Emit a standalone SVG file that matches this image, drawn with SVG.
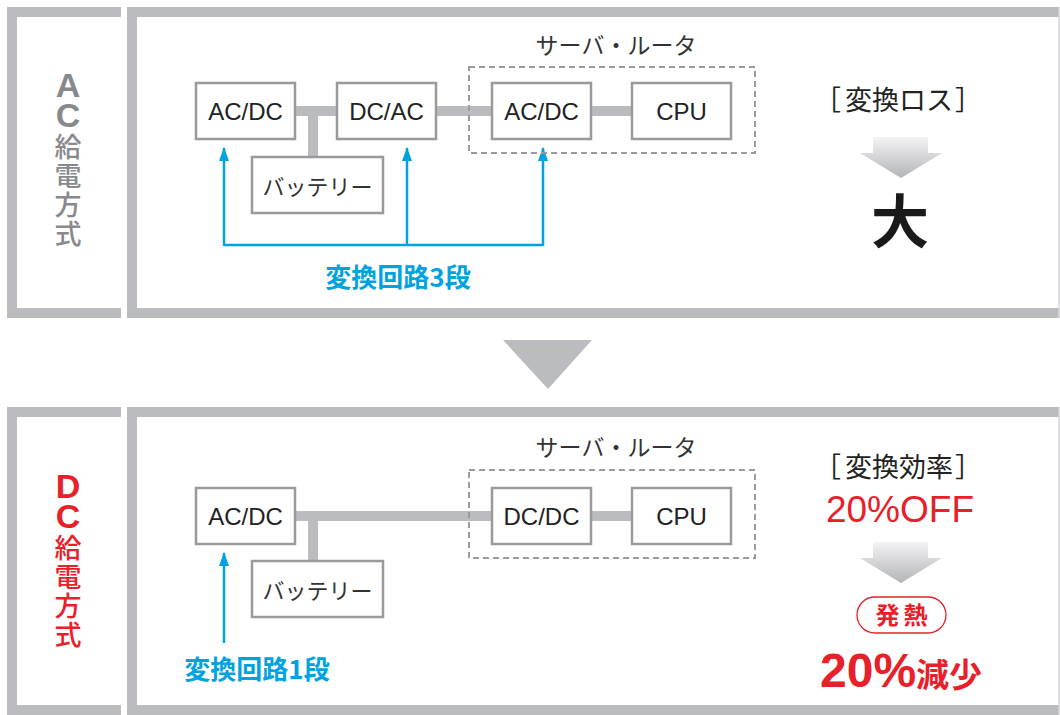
<svg xmlns="http://www.w3.org/2000/svg" width="1060" height="715" viewBox="0 0 1060 715">
<defs>
<linearGradient id="ga" x1="0" y1="0" x2="0" y2="1">
<stop offset="0" stop-color="#f4f4f5"/>
<stop offset="1" stop-color="#b3b4b7"/>
</linearGradient>
<marker id="ah" viewBox="0 0 14 10" refX="13" refY="5" markerWidth="14" markerHeight="10" markerUnits="userSpaceOnUse" orient="auto">
<path d="M0 0 L14 5 L0 10 Z" fill="#00a3e0"/>
</marker>
<style>
.frame{fill:none;stroke:#bbbcbf;stroke-width:10}
.box{fill:#fff;stroke:#9a9a9c;stroke-width:2.5}
.dash{fill:none;stroke:#9a9a9c;stroke-width:2;stroke-dasharray:6 4}
.bar{stroke:#bbbcbf;stroke-width:10;fill:none}
.blue{stroke:#00a3e0;stroke-width:2.5;fill:none}
.lbl{font-family:"Liberation Sans",Arial,sans-serif;font-size:24px;fill:#222;text-anchor:middle}
.jp{font-family:"Noto Sans CJK JP","Noto Sans",sans-serif;fill:#333;text-anchor:middle}
.brk{font-family:"Noto Sans CJK JP","Noto Sans",sans-serif;fill:#222;font-size:27px}
.vert{writing-mode:vertical-rl;text-orientation:upright}
.lat{font-family:"Liberation Sans",Arial,sans-serif;font-weight:bold;font-size:34px;letter-spacing:-8px}
.kan{font-family:"Noto Sans CJK JP",sans-serif;font-size:27px;font-weight:500;letter-spacing:2px}
</style>
</defs>
<g id="frames">
<path class="frame" d="M121 12 H12 V313 H121"/>
<path d="M132 12 V313 M127 12 H1059 M127 313 H1059" class="frame"/>
<line x1="1059" y1="7" x2="1059" y2="318" stroke="#d4d5d7" stroke-width="1.5"/>
<path class="frame" d="M121 412 H12 V710 H121"/>
<path d="M132 412 V715 M127 412 H1059 M127 710 H1059" class="frame"/>
<line x1="1059" y1="407" x2="1059" y2="715" stroke="#d4d5d7" stroke-width="1.5"/>
<polygon points="503,340 592,340 548,389" fill="#bbbcbf"/>
</g>
<g id="label-ac" fill="#88898c">
<text class="vert" x="68" y="66"><tspan class="lat">AC</tspan><tspan class="kan" dy="7">給電方式</tspan></text>
</g>
<g id="label-dc" fill="#e8202a">
<text class="vert" x="68" y="467"><tspan class="lat">DC</tspan><tspan class="kan" dy="7">給電方式</tspan></text>
</g>
<g id="connectors">
<path class="bar" d="M295 111 H337 M313 111 V157 M436 111 H492 M591 111 H632"/>
<path class="bar" d="M295 516 H492 M313 516 V561 M591 516 H632"/>
<path class="blue" d="M224 245 H543"/>
<line class="blue" x1="224" y1="246" x2="224" y2="148" marker-end="url(#ah)"/>
<line class="blue" x1="407" y1="246" x2="407" y2="148" marker-end="url(#ah)"/>
<line class="blue" x1="543" y1="246" x2="543" y2="148" marker-end="url(#ah)"/>
<line class="blue" x1="224" y1="643" x2="224" y2="553" marker-end="url(#ah)"/>
</g>
<g id="top-server">
<rect class="dash" x="469" y="67" width="286" height="86"/>
<text class="jp" x="616" y="54" font-size="23">サーバ・ルータ</text>
</g>
<g id="top-acdc1"><rect class="box" x="196" y="83" width="99" height="56"/><text class="lbl" x="245.5" y="120">AC/DC</text></g>
<g id="top-dcac"><rect class="box" x="337" y="83" width="99" height="56"/><text class="lbl" x="386.5" y="120">DC/AC</text></g>
<g id="top-acdc2"><rect class="box" x="492" y="83" width="99" height="56"/><text class="lbl" x="541.5" y="120">AC/DC</text></g>
<g id="top-cpu"><rect class="box" x="632" y="83" width="99" height="56"/><text class="lbl" x="681.5" y="120">CPU</text></g>
<g id="top-battery"><rect class="box" x="252" y="157" width="131" height="56"/><text class="jp" x="317.5" y="195" font-size="22">バッテリー</text></g>
<g id="top-note"><text class="jp" x="398" y="287" font-size="26" font-weight="bold" style="fill:#00a3e0">変換回路3段</text></g>
<g id="top-result">
<text class="brk" x="814" y="110">［<tspan dx="4">変換ロス</tspan><tspan dx="2">］</tspan></text>
<polygon points="873,137 928,137 928,153 942,153 901,178 860,153 873,153" fill="url(#ga)"/>
<text class="jp" x="900" y="243" font-size="58" font-weight="bold" style="fill:#1a1a1a">大</text>
</g>
<g id="bot-server">
<rect class="dash" x="469" y="470" width="286" height="88"/>
<text class="jp" x="616" y="456" font-size="23">サーバ・ルータ</text>
</g>
<g id="bot-acdc"><rect class="box" x="196" y="488" width="99" height="56"/><text class="lbl" x="245.5" y="525">AC/DC</text></g>
<g id="bot-dcdc"><rect class="box" x="492" y="488" width="99" height="56"/><text class="lbl" x="541.5" y="525">DC/DC</text></g>
<g id="bot-cpu"><rect class="box" x="632" y="488" width="99" height="56"/><text class="lbl" x="681.5" y="525">CPU</text></g>
<g id="bot-battery"><rect class="box" x="252" y="561" width="131" height="56"/><text class="jp" x="317.5" y="599" font-size="22">バッテリー</text></g>
<g id="bot-note"><text class="jp" x="257" y="679" font-size="26" font-weight="bold" style="fill:#00a3e0">変換回路1段</text></g>
<g id="bot-result">
<text class="brk" x="814" y="477">［<tspan dx="4">変換効率</tspan><tspan dx="2">］</tspan></text>
<text x="900" y="522" font-family="Liberation Sans,Arial,sans-serif" font-size="37" text-anchor="middle" fill="#e8202a">20%OFF</text>
<polygon points="873,542 928,542 928,558 942,558 901,583 860,558 873,558" fill="url(#ga)"/>
<rect x="857" y="597" width="89" height="36" rx="18" fill="#fff" stroke="#e8202a" stroke-width="1.3"/>
<text class="jp" x="903.5" y="624" font-size="24" font-weight="bold" letter-spacing="4" style="fill:#e8202a">発熱</text>
<text x="820" y="687" fill="#e8202a"><tspan font-family="Liberation Sans,Arial,sans-serif" font-weight="bold" font-size="48">20%</tspan><tspan font-family="Noto Sans CJK JP,sans-serif" font-weight="bold" font-size="33">減少</tspan></text>
</g>
</svg>
